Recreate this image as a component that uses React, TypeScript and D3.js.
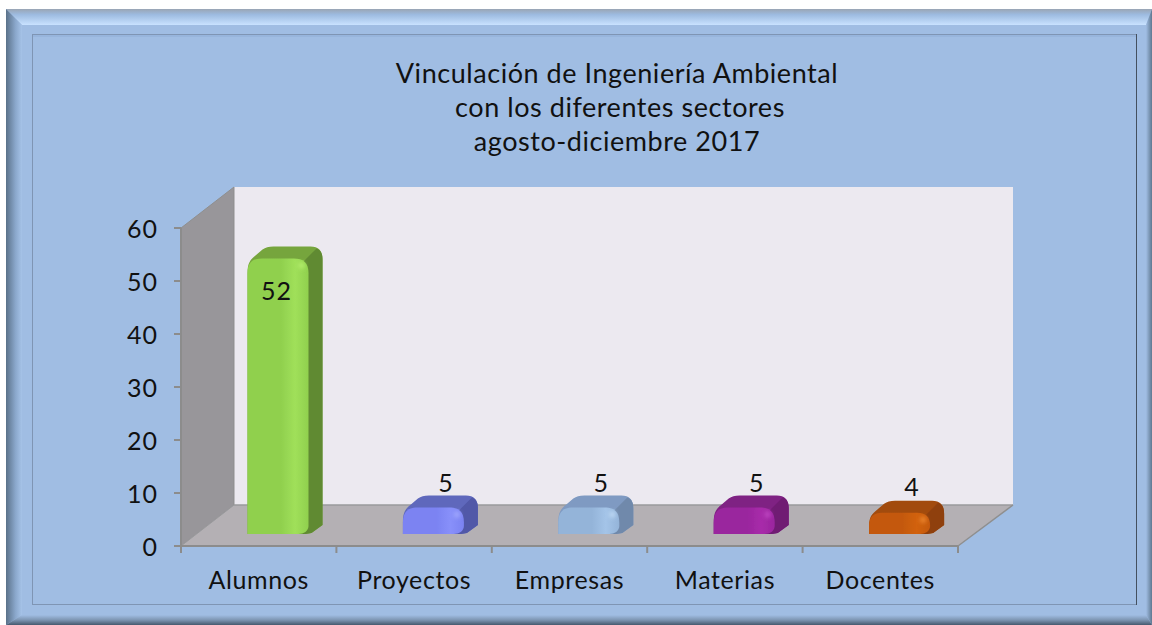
import React from "react";
import * as d3 from "d3";

const categories = ["Alumnos", "Proyectos", "Empresas", "Materias", "Docentes"];
const values = [52, 5, 5, 5, 4];
const yTicks = [0, 10, 20, 30, 40, 50, 60];
const titleLines = ["Vinculación de Ingeniería Ambiental", "con los diferentes sectores", "agosto-diciembre 2017"];
const frontColors = ["#90d04e", "#7b83f2", "#94b4d9", "#9a259e", "#c4590f"];
const lightColors = ["#a0e05a", "#8890fa", "#a4c4e8", "#a82caa", "#d2620f"];
const glowColors = ["#b8f070", "#a4abff", "#c2dcf6", "#c248c6", "#f08a30"];
const sideColors = ["#618a33", "#5159a8", "#7089ab", "#6f1a73", "#8f400a"];
const topColors = ["#76a53d", "#5f68bc", "#7f9ac2", "#7f2083", "#a24b0c"];

const FONT = "Lato, 'Open Sans', sans-serif";
const x = d3.scaleBand<string>().domain(categories).range([181, 958]);
const y = d3.scaleLinear().domain([0, 60]).range([546, 228]);
const DY = -41;
const backX0 = 234, backX1 = 1013;
const barOffset = 66.5, barW = 61, extrudeX = 14, extrudeY = -12, lift = 12;

function barParts(i: number) {
  const x0 = x(categories[i])! + barOffset;
  const x1 = x0 + barW;
  const yb = y(0) - lift;
  const yt = y(values[i]) - lift;
  const r = Math.min(15, (yb - yt) * 0.6);
  const bx1 = x1 + extrudeX;
  const by = yt + extrudeY;
  const silhouette = `M${x0},${yb} L${x0},${yt + r} C${x0},${yt + 4} ${x0 + 3},${yt + 1} ${x0 + 8},${yt - 3} L${x0 + 15},${by + 3} C${x0 + 18},${by + 1} ${x0 + 21},${by} ${x0 + 26},${by} L${bx1 - 12},${by} C${bx1 - 4},${by} ${bx1},${by + 4} ${bx1},${by + 13} L${bx1},${yb + extrudeY + 3} L${x1 + 3},${yb - 1} C${x1 - 1},${yb} ${x1 - 5},${yb} ${x1 - 10},${yb} Z`;
  const side = `M${x1 - 6},${yt + 4} L${bx1 - 6},${by + 2} C${bx1 - 1},${by + 4} ${bx1},${by + 8} ${bx1},${by + 13} L${bx1},${yb + extrudeY + 3} L${x1 + 3},${yb - 1} C${x1 - 1},${yb} ${x1 - 5},${yb} ${x1 - 10},${yb} Z`;
  const front = `M${x0},${yb} L${x0},${yt + r} C${x0},${yt + 4} ${x0 + 5},${yt} ${x0 + r},${yt} L${x1 - r},${yt} C${x1 - 5},${yt} ${x1},${yt + 4} ${x1},${yt + r} L${x1},${yb - 8} C${x1},${yb - 3} ${x1 - 5},${yb} ${x1 - 10},${yb} Z`;
  return { x0, x1, yt, yb, silhouette, side, front };
}

export default function App() {
  const [fx0, fx1] = x.range();
  const y0 = y(0), y60 = y(60);
  const floor = `M${fx0},${y0} L${backX0},${y0 + DY} L${backX1},${y0 + DY} L${fx1},${y0} Z`;
  const wall = `M${fx0},${y0} L${backX0},${y0 + DY} L${backX0},${y60 + DY} L${fx0},${y60} Z`;
  return (
    <svg width={1152} height={625} style={{ position: "absolute", left: 0, top: 0, background: "#fff" }}>
      <defs>
        <linearGradient id="bt" x1="0" y1="0" x2="0" y2="1">
          <stop offset="0" stopColor="#9aa5b4" />
          <stop offset="0.35" stopColor="#9dbbe0" />
          <stop offset="1" stopColor="#c9e2ff" />
        </linearGradient>
        <linearGradient id="bl" x1="0" y1="0" x2="1" y2="0">
          <stop offset="0" stopColor="#5a7189" />
          <stop offset="0.6" stopColor="#8ba8cc" />
          <stop offset="1" stopColor="#a6c3e8" />
        </linearGradient>
        <linearGradient id="br" x1="0" y1="0" x2="1" y2="0">
          <stop offset="0" stopColor="#a0bde3" />
          <stop offset="1" stopColor="#5f7890" />
        </linearGradient>
        <linearGradient id="bb" x1="0" y1="0" x2="0" y2="1">
          <stop offset="0" stopColor="#a0bde3" />
          <stop offset="0.5" stopColor="#7d95b2" />
          <stop offset="1" stopColor="#46596e" />
        </linearGradient>
        <filter id="soft" x="-10%" y="-10%" width="120%" height="120%">
          <feGaussianBlur stdDeviation="0.7" />
        </filter>
        <filter id="glow" x="-100%" y="-100%" width="300%" height="300%">
          <feGaussianBlur stdDeviation="2" />
        </filter>
        {categories.map((c, i) => (
          <linearGradient key={c} id={`f${i}`} x1="0" y1="0" x2="1" y2="0">
            <stop offset="0" stopColor={frontColors[i]} />
            <stop offset="0.55" stopColor={frontColors[i]} />
            <stop offset="0.78" stopColor={lightColors[i]} />
            <stop offset="1" stopColor={frontColors[i]} />
          </linearGradient>
        ))}
      </defs>

      <rect x={6} y={9} width={1146} height={616} fill="#a0bde3" />
      <polygon points="6,9 1152,9 1146,25 22,25" fill="url(#bt)" />
      <polygon points="6,9 22,25 22,615 6,625" fill="url(#bl)" />
      <polygon points="1152,9 1146,25 1146,615 1152,625" fill="url(#br)" />
      <polygon points="6,625 22,615 1146,615 1152,625" fill="url(#bb)" />
      <rect x={32.5} y={34.5} width={1104} height={570} fill="#a0bde3" stroke="#7f95b4" />
      <line x1={1136.5} y1={34} x2={1136.5} y2={605} stroke="#44505f" />
      <line x1={33} y1={36} x2={1136} y2={36} stroke="#8fadd6" />

      <g fontFamily={FONT} fontSize={27} textAnchor="middle" fill="#111" letterSpacing={0.55}>
        {titleLines.map((t, i) => (
          <text key={t} x={i === 1 ? 620 : 617} y={83 + i * 34}>{t}</text>
        ))}
      </g>

      <rect x={backX0} y={y60 + DY} width={backX1 - backX0} height={y0 - y60} fill="#ece9f0" />
      <path d={wall} fill="#98969a" stroke="#8f8f8f" strokeWidth={1} />
      <path d={floor} fill="#b4b0b4" />
      <line x1={backX0} y1={y0 + DY} x2={backX1} y2={y0 + DY} stroke="#9a9a9c" strokeWidth={1.5} />
      <line x1={fx1} y1={y0} x2={backX1} y2={y0 + DY} stroke="#8f8f8f" strokeWidth={1.5} />
      <line x1={fx0} y1={y0} x2={backX0} y2={y0 + DY} stroke="#9a9a9c" strokeWidth={1} />

      <line x1={fx0} y1={y60} x2={fx0} y2={y0 + 1} stroke="#8c8c8c" strokeWidth={2} />
      <line x1={fx0} y1={y0} x2={fx1} y2={y0} stroke="#8c8c8c" strokeWidth={2} />
      {yTicks.map((t) => (
        <g key={t}>
          <line x1={fx0 - 7} y1={y(t)} x2={fx0} y2={y(t)} stroke="#8c8c8c" strokeWidth={2} />
          <text x={158} y={y(t) + 10} fontFamily={FONT} fontSize={25} textAnchor="end" fill="#111" letterSpacing={1}>{t}</text>
        </g>
      ))}
      {[...categories.map((c) => x(c)!), fx1].map((p, i) => (
        <line key={i} x1={p} y1={y0} x2={p} y2={y0 + 7} stroke="#8c8c8c" strokeWidth={2} />
      ))}
      {categories.map((c) => (
        <text key={c} x={x(c)! + x.bandwidth() / 2} y={589} fontFamily={FONT} fontSize={25} textAnchor="middle" fill="#111" letterSpacing={0.6}>{c}</text>
      ))}

      {categories.map((c, i) => {
        const b = barParts(i);
        return (
          <g key={c}>
            <g filter="url(#soft)">
              <path d={b.silhouette} fill={topColors[i]} />
              <path d={b.side} fill={sideColors[i]} />
              <path d={b.front} fill={`url(#f${i})`} />
            </g>
            <circle cx={b.x1 - 7} cy={b.yt + 7} r={3} fill={glowColors[i]} filter="url(#glow)" />
            <text
              x={i === 0 ? b.x0 + 29 : b.x1 - 18}
              y={i === 0 ? b.yt + 42 : b.yt + (i === 4 ? -17 : -16)}
              fontFamily={FONT} fontSize={25} textAnchor="middle" fill="#111" letterSpacing={1}
            >{values[i]}</text>
          </g>
        );
      })}
    </svg>
  );
}
